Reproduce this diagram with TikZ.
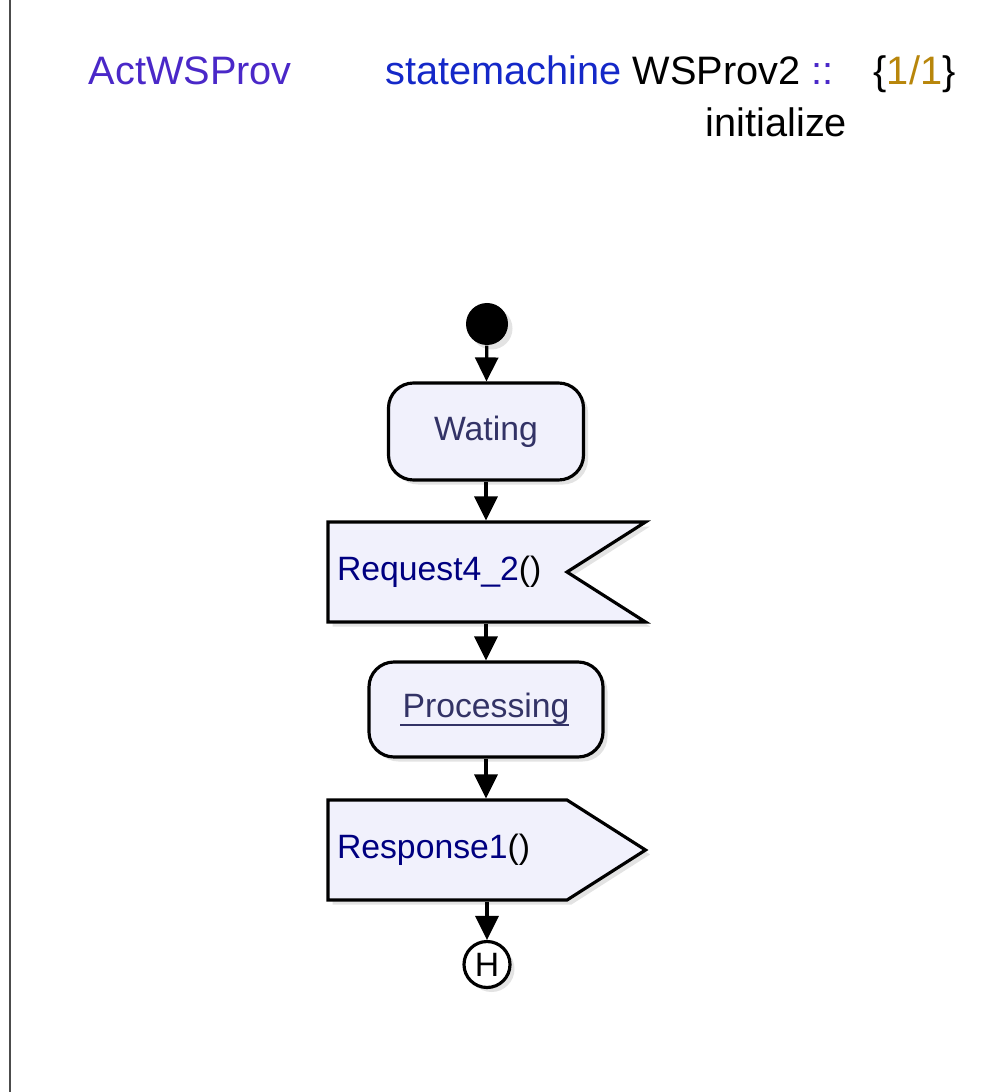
\documentclass[tikz,border=0pt]{standalone}
\usepackage{fontspec}
\setmainfont{Liberation Sans}
\definecolor{SMpurple}{HTML}{4A28C8}
\definecolor{SMblue}{HTML}{1428C8}
\definecolor{SMgold}{HTML}{B8860B}
\definecolor{SMslate}{HTML}{333366}
\definecolor{SMnavy}{HTML}{000080}
\definecolor{SMfill}{HTML}{F1F1FC}
\usetikzlibrary{arrows.meta, shapes.symbols, shadows}

\begin{document}
\begin{tikzpicture}[
      boxshadow/.style={drop shadow={shadow xshift=0.045cm, shadow yshift=-0.045cm, fill=black!22}},
      state/.style={draw, line width=0.9pt, rounded corners=0.25cm, fill=SMfill, boxshadow,
         text=SMslate, font=\fontsize{9.6}{11}\selectfont},
      sigbox/.style={draw, line width=0.9pt, fill=SMfill, boxshadow, signal, signal pointer angle=65,
         minimum height=1cm, text width=2.21cm, inner xsep=0.09cm, align=left,
         text=SMnavy, font=\fontsize{9.6}{11}\selectfont},
      title/.style={anchor=base west, inner sep=0pt, font=\fontsize{11.3}{13}\selectfont},
      flow/.style={-{Triangle[width=0.23cm,length=0.24cm]}, line width=0.9pt}]
      \useasboundingbox (0,0) rectangle (9.92,-10.92);
      \draw[line width=0.4pt, black!70] (0.1,0) -- (0.1,-10.92);
      % header
      \node[title, text=SMpurple] (actor) at (0.88,-0.85) {ActWSProv};
      \node[title] (machine) at (3.85,-0.85) {\textcolor{SMblue}{statemachine} WSProv2 \textcolor{SMpurple}{::}};
      \node[title] (page) at (8.73,-0.85) {\{\textcolor{SMgold}{1/1}\}};
      \node[title] (op) at (7.05,-1.37) {initialize};
      % flow
      \node[circle, fill=black, minimum size=0.42cm, inner sep=0pt, boxshadow] (init) at (4.87,-3.24) {};
      \node[state, minimum width=1.95cm, minimum height=0.97cm] (wating) at (4.86,-4.315) {Wating};
      \node[sigbox, signal to=nowhere, signal from=east] (req) at (4.475,-5.72) {Request4\_2\textcolor{black}{()}};
      \node[state, minimum width=2.34cm, minimum height=0.95cm] (proc) at (4.86,-7.095)
         {Processing\llap{\rule[-0.09cm]{1.69cm}{0.7pt}}};
      \node[sigbox, signal to=east] (resp) at (4.475,-8.50) {Response1\textcolor{black}{()}};
      \node[circle, draw, fill=white, line width=0.9pt, minimum size=0.46cm, inner sep=0pt, boxshadow,
         font=\fontsize{9.6}{11}\selectfont] (hist) at (4.87,-9.645) {H};
      \draw[flow] (init) -- (wating);
      \draw[flow] (wating.south) -- (wating.south |- req.north);
      \draw[flow] (req.south -| proc.north) -- (proc.north);
      \draw[flow] (proc.south) -- (proc.south |- resp.north);
      \draw[flow] (resp.south -| hist.north) -- (hist.north);
   \end{tikzpicture}
\end{document}
